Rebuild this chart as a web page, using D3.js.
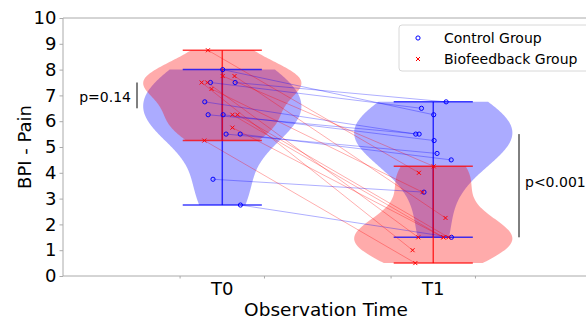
<!DOCTYPE html>
<html>
<head>
<meta charset="utf-8">
<script src="https://cdn.jsdelivr.net/npm/d3@7"></script>
<style>
  body { margin: 0; background: #fff; }
  text { font-family: "DejaVu Sans", sans-serif; fill: #000; }
</style>
</head>
<body>
<svg width="586" height="320"></svg>
<script>
// paired scores, same subject order at T0 and T1
var timeLabels = ["T0", "T1"];
var controlT0 = [8.0, 7.5, 7.5, 6.75, 6.25, 6.25, 5.5, 5.5, 3.75, 2.75];
var controlT1 = [6.25, 6.5, 6.75, 5.5, 5.5, 5.25, 4.75, 4.5, 3.25, 1.5];
var controlJitter = [0.002, -0.056, 0.061, -0.083, -0.067, 0.004, 0.018, 0.085, -0.044, 0.086];
var bioT0 = [8.75, 7.75, 7.75, 7.5, 7.5, 7.25, 6.25, 6.25, 5.75, 5.25];
var bioT1 = [4.0, 4.25, 2.25, 1.0, 1.5, 3.25, 1.5, 1.5, 1.5, 0.5];
var bioJitter = [-0.068, 0.002, 0.058, -0.098, -0.071, -0.051, 0.048, 0.072, 0.048, -0.085];
var yTicks = [0, 1, 2, 3, 4, 5, 6, 7, 8, 9, 10];
var xMinorTicks = [-0.2, 0.2, 0.8, 1.2];
var legendNames = ["Control Group", "Biofeedback Group"];

var svg = d3.select("svg");

var x = d3.scaleLinear().domain([-0.755, 1.75]).range([63, 591.5]);
var y = d3.scaleLinear().domain([0, 10]).range([276, 18]);

var violinWidth = 0.75;

//gaussian kde with scott's bandwidth, like scipy
function kde(data, pts) {
    var n = data.length;
    var sd = d3.deviation(data);
    var bw = sd * Math.pow(n, -0.2);
    return pts.map(function (p) {
        var s = 0;
        data.forEach(function (v) {
            var z = (p - v) / bw;
            s += Math.exp(-0.5 * z * z);
        });
        return [p, s / (n * bw * Math.sqrt(2 * Math.PI))];
    });
}

function drawViolin(data, pos, col) {
    var lo = d3.min(data), hi = d3.max(data);
    var pts = d3.range(100).map(function (i) { return lo + (hi - lo) * i / 99; });
    var dens = kde(data, pts);
    var mx = d3.max(dens, function (d) { return d[1]; });
    var half = function (d) { return 0.5 * violinWidth * d[1] / mx; };
    var area = d3.area()
        .y(function (d) { return y(d[0]); })
        .x0(function (d) { return x(pos - half(d)); })
        .x1(function (d) { return x(pos + half(d)); });
    svg.append("path")
        .datum(dens)
        .attr("d", area)
        .attr("fill", col)
        .attr("fill-opacity", 0.33)
        .attr("stroke", "none");
}

function drawExtrema(data, pos, col) {
    var lo = d3.min(data), hi = d3.max(data);
    var g = svg.append("g")
        .attr("stroke", col)
        .attr("stroke-opacity", 0.75)
        .attr("stroke-width", 1.5);
    g.append("line")
        .attr("x1", x(pos)).attr("x2", x(pos))
        .attr("y1", y(lo)).attr("y2", y(hi));
    [lo, hi].forEach(function (v) {
        g.append("line")
            .attr("x1", x(pos - violinWidth / 4)).attr("x2", x(pos + violinWidth / 4))
            .attr("y1", y(v)).attr("y2", y(v));
    });
}

//violins
drawViolin(controlT0, 0, "blue");
drawViolin(controlT1, 1, "blue");
drawViolin(bioT0, 0, "red");
drawViolin(bioT1, 1, "red");

drawExtrema(controlT0, 0, "blue");
drawExtrema(controlT1, 1, "blue");
drawExtrema(bioT0, 0, "red");
drawExtrema(bioT1, 1, "red");

//subject lines
function drawPairs(a, b, jit, col) {
    svg.append("g").selectAll("line")
        .data(a)
        .enter().append("line")
        .attr("x1", function (d, i) { return x(0 + jit[i]); })
        .attr("y1", function (d) { return y(d); })
        .attr("x2", function (d, i) { return x(1 + jit[i]); })
        .attr("y2", function (d, i) { return y(b[i]); })
        .attr("stroke", col)
        .attr("stroke-opacity", 0.4)
        .attr("stroke-width", 0.8);
}
drawPairs(controlT0, controlT1, controlJitter, "blue");
drawPairs(bioT0, bioT1, bioJitter, "red");

//markers
function circles(vals, jit, pos) {
    svg.append("g").selectAll("circle")
        .data(vals)
        .enter().append("circle")
        .attr("cx", function (d, i) { return x(pos + jit[i]); })
        .attr("cy", function (d) { return y(d); })
        .attr("r", 2.1)
        .attr("fill", "none")
        .attr("stroke", "blue")
        .attr("stroke-width", 1);
}
function crosses(vals, jit, pos) {
    var s = 2;
    svg.append("g").selectAll("path")
        .data(vals)
        .enter().append("path")
        .attr("d", function (d, i) {
            var cx = x(pos + jit[i]), cy = y(d);
            return "M" + (cx - s) + "," + (cy - s) + "L" + (cx + s) + "," + (cy + s) +
                "M" + (cx - s) + "," + (cy + s) + "L" + (cx + s) + "," + (cy - s);
        })
        .attr("stroke", "red")
        .attr("stroke-width", 1)
        .attr("fill", "none");
}
circles(controlT0, controlJitter, 0);
circles(controlT1, controlJitter, 1);
crosses(bioT0, bioJitter, 0);
crosses(bioT1, bioJitter, 1);

//axes / spines
var spine = "#aaaaaa";
svg.append("line").attr("x1", x.range()[0]).attr("x2", x.range()[0])
    .attr("y1", y(0)).attr("y2", y(10)).attr("stroke", spine);
svg.append("line").attr("x1", x.range()[0]).attr("x2", 586)
    .attr("y1", y(0)).attr("y2", y(0)).attr("stroke", spine);
svg.append("line").attr("x1", x.range()[0]).attr("x2", 586)
    .attr("y1", y(10)).attr("y2", y(10)).attr("stroke", spine);

var yAxis = svg.append("g")
    .attr("transform", "translate(" + x.range()[0] + ",0)")
    .call(d3.axisLeft(y).tickValues(yTicks).tickSize(3.5).tickPadding(3));
yAxis.select(".domain").remove();
yAxis.selectAll(".tick line").attr("stroke", spine);
yAxis.selectAll(".tick text")
    .style("font-family", "DejaVu Sans")
    .style("font-size", "18px")
    .attr("fill", "#000");

var xAxis = svg.append("g")
    .attr("transform", "translate(0," + y(0) + ")");
xAxis.selectAll("line")
    .data(xMinorTicks)
    .enter().append("line")
    .attr("x1", function (d) { return x(d); })
    .attr("x2", function (d) { return x(d); })
    .attr("y1", 0).attr("y2", 2.5)
    .attr("stroke", spine);
xAxis.selectAll("text")
    .data(timeLabels)
    .enter().append("text")
    .attr("x", function (d, i) { return x(i); })
    .attr("y", 19)
    .attr("text-anchor", "middle")
    .style("font-size", "18px")
    .text(function (d) { return d; });

svg.append("text")
    .attr("x", 326).attr("y", 316)
    .attr("text-anchor", "middle")
    .style("font-size", "18.5px")
    .text("Observation Time");

svg.append("text")
    .attr("transform", "translate(31," + y(5) + ") rotate(-90)")
    .attr("text-anchor", "middle")
    .style("font-size", "18px")
    .text("BPI - Pain");

//significance labels
svg.append("line").attr("x1", 137).attr("x2", 137)
    .attr("y1", y(7.5)).attr("y2", y(6.5))
    .attr("stroke", "#000").attr("stroke-width", 1);
svg.append("text").attr("x", 131).attr("y", 102)
    .attr("text-anchor", "end")
    .style("font-size", "14px")
    .text("p=0.14");

svg.append("line").attr("x1", 519).attr("x2", 519)
    .attr("y1", y(5.5)).attr("y2", y(1.5))
    .attr("stroke", "#000").attr("stroke-width", 1);
svg.append("text").attr("x", 525).attr("y", 187)
    .style("font-size", "14px")
    .text("p<0.001");

//legend
var leg = svg.append("g");
leg.append("rect")
    .attr("x", 399).attr("y", 25)
    .attr("width", 192).attr("height", 46)
    .attr("rx", 3)
    .attr("fill", "#fff").attr("fill-opacity", 0.8)
    .attr("stroke", "#d8d8d8");
leg.append("circle").attr("cx", 418).attr("cy", 38).attr("r", 2.1)
    .attr("fill", "none").attr("stroke", "blue");
leg.append("path")
    .attr("d", "M416,57L420,61M416,61L420,57")
    .attr("stroke", "red").attr("fill", "none");
leg.selectAll("text")
    .data(legendNames)
    .enter().append("text")
    .attr("x", 444)
    .attr("y", function (d, i) { return 43 + i * 21; })
    .style("font-size", "14px")
    .text(function (d) { return d; });
</script>
</body>
</html>
